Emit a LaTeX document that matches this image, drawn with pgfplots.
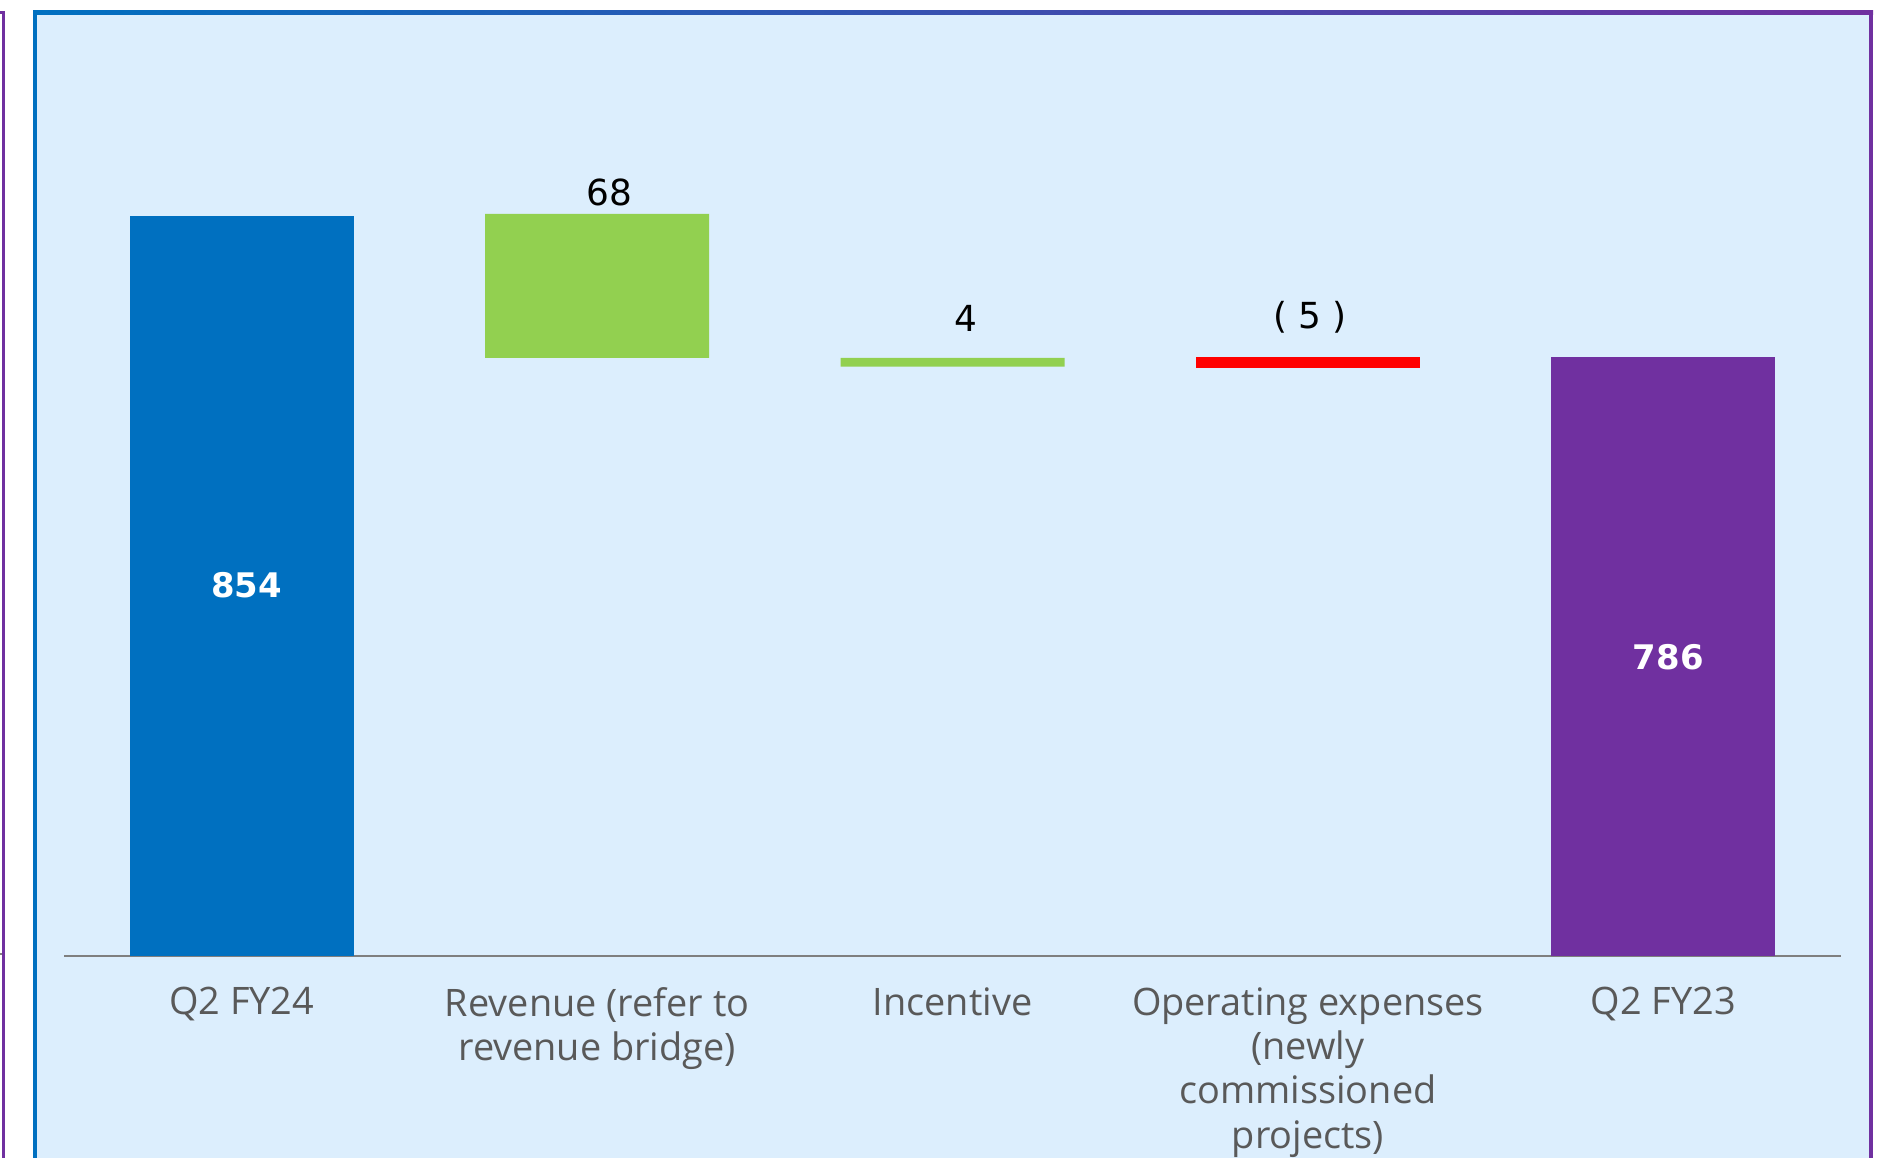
\documentclass[border=0pt]{standalone}
\usepackage{pgfplots}
\pgfplotsset{compat=1.18}
\usepackage{fontspec}
\setmainfont{Open Sans}
\newfontfamily\numfont{DejaVu Sans}
\definecolor{bgblue}{HTML}{DCEEFD}
\definecolor{frameblue}{HTML}{0070C0}
\definecolor{framepurple}{HTML}{7030A0}
\definecolor{barblue}{HTML}{0070C0}
\definecolor{bargreen}{HTML}{92D050}
\definecolor{barred}{HTML}{FF0000}
\definecolor{barpurple}{HTML}{7030A0}
\definecolor{textgray}{HTML}{595959}
\definecolor{linegray}{HTML}{7F7F7F}
\begin{document}
\begin{tikzpicture}
\useasboundingbox (0bp,0bp) rectangle (944.5bp,-579bp);
\fill[bgblue] (17.5bp,-6bp) rectangle (935.5bp,-579bp);
\draw[frameblue, line width=2bp] (17.5bp,-579bp) -- (17.5bp,-6bp);
\shade[left color=frameblue, right color=framepurple] (16.5bp,-5bp) rectangle (936.5bp,-7bp);
\draw[framepurple, line width=2bp] (935.5bp,-6bp) -- (935.5bp,-579bp);
\draw[framepurple, line width=1.5bp] (0bp,-6bp) -- (1.75bp,-6bp) -- (1.75bp,-579bp);
\draw[linegray, line width=0.8bp] (0bp,-477bp) -- (1bp,-477bp);
\begin{axis}[
  at={(32bp,-478bp)}, anchor=south west,
  width=888.5bp, height=472bp, scale only axis,
  xmin=-0.5, xmax=4.5, ymin=0, ymax=1089,
  axis x line=bottom, axis y line=none,
  x axis line style={-, linegray, line width=1bp},
  xtick={0,1,2,3,4},
  xtick style={draw=none},
  ytick=\empty,
  xticklabels={{Q2 FY24},{Revenue (refer to\\revenue bridge)},{Incentive},{Operating expenses\\(newly\\commissioned\\projects)},{Q2 FY23}},
  xticklabel style={align=center, font=\fontsize{19}{22.3}\selectfont, text=textgray, anchor=north, yshift=-10bp},
  ybar stacked, bar width=112bp,
  clip=false,
]
\addplot[draw=none, fill=none] coordinates {(0,0) (1,690) (2,680) (3,678) (4,0)};
\addplot[draw=none, fill=barblue] coordinates {(0,854) (1,0) (2,0) (3,0) (4,0)};
\addplot[draw=none, fill=bargreen] coordinates {(0,0) (1,166) (2,10) (3,0) (4,0)};
\addplot[draw=none, fill=barred] coordinates {(0,0) (1,0) (2,0) (3,13) (4,0)};
\addplot[draw=none, fill=barpurple] coordinates {(0,0) (1,0) (2,0) (3,0) (4,691)};
\coordinate (l854) at (axis cs:0.014,428);
\coordinate (l786) at (axis cs:4.014,345);
\coordinate (l68) at (axis cs:1.034,881);
\coordinate (l4) at (axis cs:2.037,735);
\coordinate (l5) at (axis cs:3.006,737);
\end{axis}
\node[font=\numfont\bfseries\fontsize{17}{20}\selectfont, text=white] at (l854) {854};
\node[font=\numfont\bfseries\fontsize{17}{20}\selectfont, text=white] at (l786) {786};
\node[font=\numfont\fontsize{18}{20}\selectfont, text=black] at (l68) {68};
\node[font=\numfont\fontsize{18}{20}\selectfont, text=black] at (l4) {4};
\node[font=\numfont\fontsize{18}{20}\selectfont, text=black] at (l5) {( 5 )};
\end{tikzpicture}
\end{document}
